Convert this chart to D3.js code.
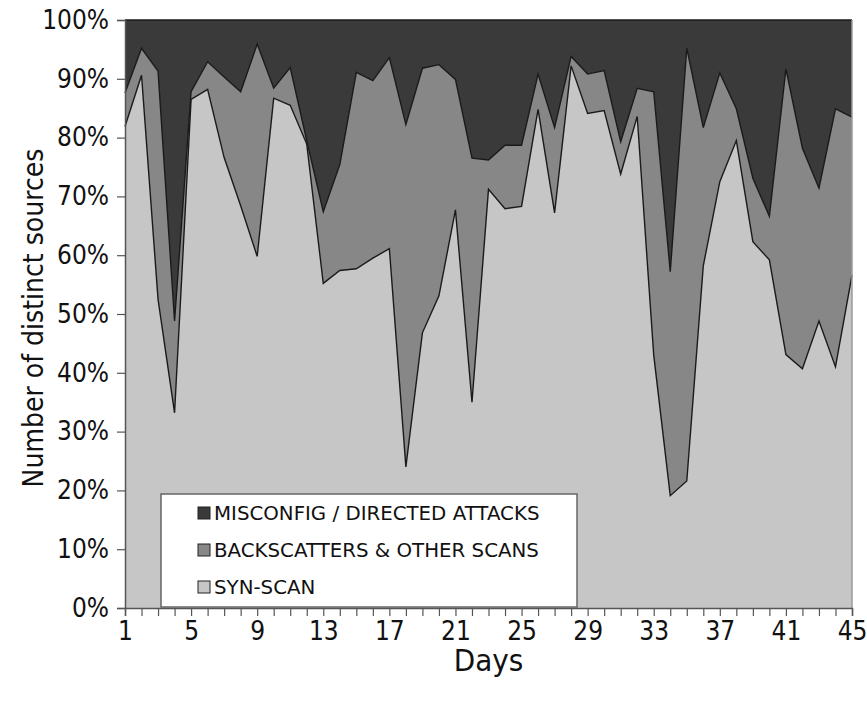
<!DOCTYPE html>
<html>
<head>
<meta charset="utf-8">
<script src="https://cdn.jsdelivr.net/npm/d3@7"></script>
<style>
  body { margin: 0; background: #fff; }
  svg { display: block; }
</style>
</head>
<body>
<div id="chart"></div>
<script>
// days 1..45
const days = d3.range(1, 46);
// share of distinct sources per day (%)
const synScan = [81.9, 90.6, 52.5, 33.2, 86.5, 88.2, 76.6, 68.4, 59.8, 86.7,
    85.5, 78.9, 55.2, 57.4, 57.7, 59.5, 61.1, 24.0, 46.8, 53.1,
    67.7, 35.0, 71.2, 67.9, 68.3, 84.8, 67.2, 92.2, 84.1, 84.6,
    73.8, 83.6, 43.0, 19.1, 21.6, 58.2, 72.5, 79.5, 62.3, 59.2,
    43.1, 40.7, 48.8, 41.0, 56.6];
const backscatter = [5.7, 4.6, 38.8, 15.6, 1.3, 4.7, 13.7, 19.4, 36.1, 1.7,
    6.4, 0.6, 12.2, 18.0, 33.4, 30.2, 32.5, 58.2, 45.0, 39.3,
    22.2, 41.5, 5.0, 10.8, 10.4, 6.0, 14.5, 1.6, 6.7, 6.8,
    5.5, 4.8, 44.8, 38.1, 73.6, 23.5, 18.5, 5.4, 10.8, 7.4,
    48.6, 37.5, 22.6, 43.9, 26.9];
const misconfig = [12.4, 4.8, 8.7, 51.2, 12.2, 7.1, 9.7, 12.2, 4.1, 11.6,
    8.1, 20.5, 32.6, 24.6, 8.9, 10.3, 6.4, 17.8, 8.2, 7.6,
    10.1, 23.5, 23.8, 21.3, 21.3, 9.2, 18.3, 6.2, 9.2, 8.6,
    20.7, 11.6, 12.2, 42.8, 4.8, 18.3, 9.0, 15.1, 26.9, 33.4,
    8.3, 21.8, 28.6, 15.1, 16.5];
const keys = ["syn", "back", "mis"];
const labels = {mis: "MISCONFIG / DIRECTED ATTACKS", back: "BACKSCATTERS & OTHER SCANS", syn: "SYN-SCAN"};
const colors = {syn: "#c6c6c6", back: "#878787", mis: "#3a3a3a"};
const xTicks = d3.range(1, 46, 4);
const yTicks = d3.range(0, 101, 10);

const W = 867, H = 704;
const margin = {top: 20, right: 15, bottom: 96, left: 125};
const width = W - margin.left - margin.right;
const height = H - margin.top - margin.bottom;
const axisFont = "'DejaVu Sans Condensed', 'DejaVu Sans', sans-serif";

const svg = d3.select("#chart").append("svg")
    .attr("width", W)
    .attr("height", H);
const g = svg.append("g")
    .attr("transform", "translate(" + margin.left + "," + margin.top + ")");

// build table for the stack
const table = days.map((d, i) => ({day: d, syn: synScan[i], back: backscatter[i], mis: misconfig[i]}));
const series = d3.stack().keys(keys)(table);

const x = d3.scaleLinear().domain([1, 45]).range([0, width]);
const y = d3.scaleLinear().domain([0, 100]).range([height, 0]);

const area = d3.area()
    .x(d => x(d.data.day))
    .y0(d => y(d[0]))
    .y1(d => y(Math.min(100, d[1])));

const line = d3.line()
    .x(d => x(d.data.day))
    .y(d => y(Math.min(100, d[1])));

g.selectAll(".layer")
    .data(series)
    .enter().append("path")
    .attr("class", "layer")
    .attr("d", area)
    .attr("fill", d => colors[d.key]);

g.selectAll(".edge")
    .data(series)
    .enter().append("path")
    .attr("class", "edge")
    .attr("d", line)
    .attr("fill", "none")
    .attr("stroke", "#1a1a1a")
    .attr("stroke-width", 1.4)
    .attr("stroke-linejoin", "miter");

// right border
g.append("line")
    .attr("x1", width).attr("x2", width)
    .attr("y1", 0).attr("y2", height)
    .attr("stroke", "#9a9a9a")
    .attr("stroke-width", 1.5);

// axes
const xAxis = g.append("g")
    .attr("transform", "translate(0," + height + ")")
    .call(d3.axisBottom(x).tickValues(days).tickSize(8).tickFormat(d => xTicks.includes(d) ? d : ""));
const yAxis = g.append("g")
    .call(d3.axisLeft(y).tickValues(yTicks).tickSize(8).tickFormat(d => d + "%"));

[xAxis, yAxis].forEach(a => {
    a.select(".domain").attr("stroke", "#555").attr("stroke-width", 1.5);
    a.selectAll(".tick line").attr("stroke", "#555").attr("stroke-width", 1.2);
    a.selectAll("text")
        .attr("fill", "#111")
        .style("font-family", axisFont)
        .style("font-size", "26px");
});
xAxis.selectAll("text").attr("dy", "0.9em").attr("y", 9);
yAxis.selectAll("text").attr("x", -16);

// axis titles
svg.append("text")
    .attr("x", margin.left + width / 2)
    .attr("y", 671)
    .attr("text-anchor", "middle")
    .style("font-family", axisFont)
    .style("font-size", "31px")
    .attr("fill", "#111")
    .text("Days");

svg.append("text")
    .attr("transform", "translate(43," + (margin.top + height / 2 + 4) + ") rotate(-90)")
    .attr("text-anchor", "middle")
    .style("font-family", axisFont)
    .style("font-size", "28px")
    .attr("fill", "#111")
    .text("Number of distinct sources");

// legend
const legend = svg.append("g").attr("transform", "translate(161,494)");
legend.append("rect")
    .attr("width", 416)
    .attr("height", 113)
    .attr("fill", "#fff")
    .attr("stroke", "#666")
    .attr("stroke-width", 1.5);

const items = legend.selectAll(".item")
    .data(["mis", "back", "syn"])
    .enter().append("g")
    .attr("class", "item")
    .attr("transform", (d, i) => "translate(37," + (19 + i * 37) + ")");
items.append("rect")
    .attr("x", 0).attr("y", -6)
    .attr("width", 12).attr("height", 12)
    .attr("fill", d => colors[d])
    .attr("stroke", "#222")
    .attr("stroke-width", 1);
items.append("text")
    .attr("x", 16)
    .attr("dy", "0.36em")
    .style("font-family", "'DejaVu Sans', sans-serif")
    .style("font-size", "19.8px")
    .attr("fill", "#111")
    .text(d => labels[d]);
</script>
</body>
</html>
